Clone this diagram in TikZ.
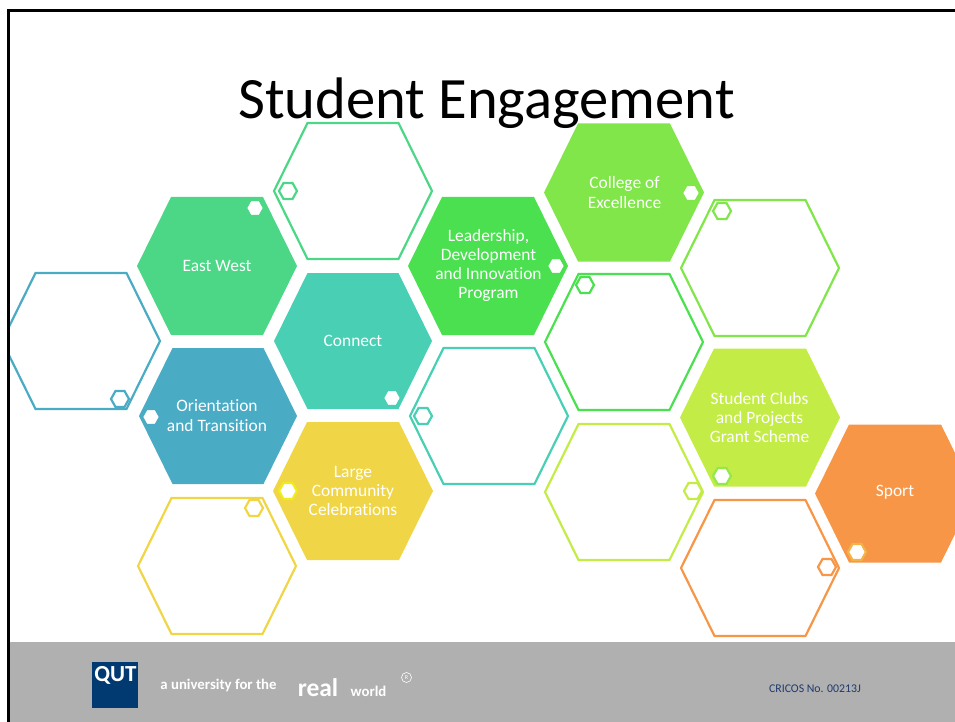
\documentclass[tikz,border=0pt]{standalone}
\usepackage{fontspec}
\setmainfont{Carlito}[Ligatures = NoCommon]

\definecolor{eastgreen}{HTML}{4CD787}
\definecolor{connectteal}{HTML}{48CFB4}
\definecolor{orientblue}{HTML}{4AABC5}
\definecolor{largeyellow}{HTML}{F0D646}
\definecolor{leadgreen}{HTML}{4AE04F}
\definecolor{collegegreen}{HTML}{80E64A}
\definecolor{clublime}{HTML}{C3EC47}
\definecolor{sportorange}{HTML}{F79646}
\definecolor{bandgrey}{HTML}{B0B0B0}
\definecolor{qutblue}{HTML}{003A70}
\definecolor{cricosblue}{HTML}{1F3A6E}

\newcommand{\bighex}[2]{(#1-80,#2) -- (#1-46,#2-69) -- (#1+46,#2-69) -- (#1+80,#2) -- (#1+46,#2+69) -- (#1-46,#2+69) -- cycle}
\newcommand{\linehex}[2]{(#1-79,#2) -- (#1-45.5,#2-68) -- (#1+45.5,#2-68) -- (#1+79,#2) -- (#1+45.5,#2+68) -- (#1-45.5,#2+68) -- cycle}
\newcommand{\tinyhex}[2]{(#1-9,#2) -- (#1-4.5,#2-8) -- (#1+4.5,#2-8) -- (#1+9,#2) -- (#1+4.5,#2+8) -- (#1-4.5,#2+8) -- cycle}

\tikzset{
    celltext/.style = {text = white, align = center, font = \fontsize{17.4}{19.2}\selectfont},
    hexline/.style = {line width = 2.2pt, line join = miter},
    dotline/.style = {line width = 2.2pt, fill = none},
    footertext/.style = {text = white, inner sep = 0pt},
}

\begin{document}
\begin{tikzpicture}[x = 1pt, y = -1pt]
    \clip (0, 0) rectangle (955, 722);

    % outlined cells
    \foreach \xc/\yc/\col in {81/341/orientblue, 353/191/eastgreen, 489/416/connectteal,
                              217/566/largeyellow, 624/342/leadgreen, 760/268/collegegreen,
                              624/492/clublime, 760/568/sportorange}
        \draw[hexline, draw = \col] \linehex{\xc}{\yc};

    % filled cells
    \foreach \xc/\yc/\col in {217/266/eastgreen, 353/491/largeyellow, 488/266/leadgreen,
                              624/192.5/collegegreen, 760/417.5/clublime, 895/493.5/sportorange}
        \fill[\col] \bighex{\xc}{\yc};
    \foreach \xc/\yc/\col in {353/341/connectteal, 218/416/orientblue}
        \fill[\col] \linehex{\xc}{\yc};

    % small rings on the outlined cells
    \foreach \xc/\yc/\col in {120/399/orientblue, 288/191/eastgreen, 423/416/connectteal,
                              254/508/largeyellow, 585/285/leadgreen, 722/211/collegegreen,
                              693/491/clublime, 827/567/sportorange}
        \draw[dotline, draw = \col] \tinyhex{\xc}{\yc};

    % small white dots on the filled cells
    \foreach \xc/\yc/\col in {255/208/eastgreen, 392/398/connectteal, 151/417/orientblue,
                              288/491/{yellow!75!clublime}, 556/266/leadgreen, 691/193/collegegreen,
                              722/476/{collegegreen!70!clublime}, 857/552/{largeyellow!45!sportorange}}
        \draw[dotline, draw = \col, fill = white] \tinyhex{\xc}{\yc};

    \node[celltext] (eastwest) at (217, 265.5) {East West};
    \node[celltext] (connect) at (353, 340.5) {Connect};
    \node[celltext] (orientation) at (217, 415.5) {Orientation\\and Transition};
    \node[celltext] (large) at (353, 491) {Large\\Community\\Celebrations};
    \node[celltext] (leadership) at (488.5, 265.5) {Leadership,\\Development\\and Innovation\\Program};
    \node[celltext] (college) at (624.5, 192.5) {College of\\Excellence};
    \node[celltext] (clubs) at (759.5, 417.5) {Student Clubs\\and Projects\\Grant Scheme};
    \node[celltext] (sport) at (895, 492.5) {Sport};

    % slide frame and footer
    \fill[white] (0, 0) rectangle (7, 722);
    \fill[bandgrey] (8, 642) rectangle (955, 722);
    \draw[line width = 3pt] (8, 722) -- (8, 11) -- (955, 11);

    \node[font = \fontsize{58.6}{64}\selectfont, text = black] (title) at (486.5, 103.5) {Student Engagement};

    \node[fill = qutblue, minimum width = 46pt, minimum height = 46pt, inner sep = 0pt] (logo) at (115, 685) {};
    \node[footertext, font = \fontsize{23}{25}\bfseries\selectfont] (qut) at (115.5, 675.5) {QUT};
    \node[footertext, font = \fontsize{14.8}{17}\bfseries\selectfont] (tagline) at (218.5, 685.5) {a university for the};
    \node[footertext, font = \fontsize{25.5}{27}\bfseries\selectfont] (real) at (318, 687.5) {real};
    \node[footertext, font = \fontsize{14.8}{17}\bfseries\selectfont] (world) at (368.5, 691.5) {world};
    \node[footertext, draw = white, circle, line width = 0.6pt, minimum size = 10pt, font = \fontsize{6}{7}\selectfont] (regmark) at (406.5, 677.5) {R};
    \node[text = cricosblue, font = \fontsize{11.8}{13}\selectfont, inner sep = 0pt] (cricos) at (815, 689) {CRICOS No. 00213J};
\end{tikzpicture}
\end{document}
